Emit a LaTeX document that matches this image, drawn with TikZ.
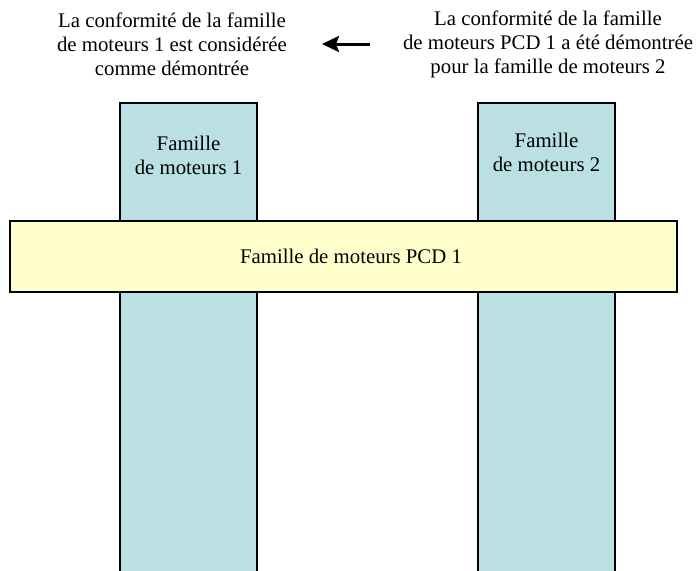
\documentclass[tikz,border=0pt]{standalone}
\usepackage{fontspec}
\setmainfont{Liberation Serif}
\newfontfamily\timesfont{Liberation Serif}
\usetikzlibrary{arrows.meta}
\definecolor{blue1}{RGB}{186, 224, 227}
\definecolor{yellow1}{RGB}{255, 255, 204}

\begin{document}
\begin{tikzpicture}[x=1pt, y=-1pt, line width=1.5pt,
  colbox/.style={draw, fill=blue1, inner sep=0pt, minimum width=137pt, minimum height=472pt},
  barbox/.style={draw, fill=yellow1, inner sep=0pt, minimum width=667pt, minimum height=71pt},
  txt/.style={align=center, font=\timesfont\fontsize{20.8}{24}\selectfont}]
  \useasboundingbox (0,0) rectangle (700,570);

  % columns
  \node[colbox] (col1) at (188.5,339) {};
  \node[colbox] (col2) at (546.5,339) {};
  % bar over the columns
  \node[barbox] (bar) at (343.5,256.5) {};

  \node[txt] (fam1) at (188.5,155) {Famille\\de moteurs 1};
  \node[txt] (fam2) at (546.5,152) {Famille\\de moteurs 2};
  \node[txt] (pcd) at (351,256.5) {Famille de moteurs PCD 1};

  \node[txt] (ltxt) at (172,44) {La conformité de la famille\\de moteurs 1 est considérée\\comme démontrée};
  \node[txt] (rtxt) at (548,44) {La conformité de la famille\\de moteurs PCD 1 a été démontrée\\pour la famille de moteurs 2};

  \coordinate (arrS) at (370,44);
  \coordinate (arrE) at (322,44);
  \draw[line width=3pt, -{Stealth[length=17pt, width=16pt, inset=3pt]}] (arrS) -- (arrE);
\end{tikzpicture}
\end{document}
